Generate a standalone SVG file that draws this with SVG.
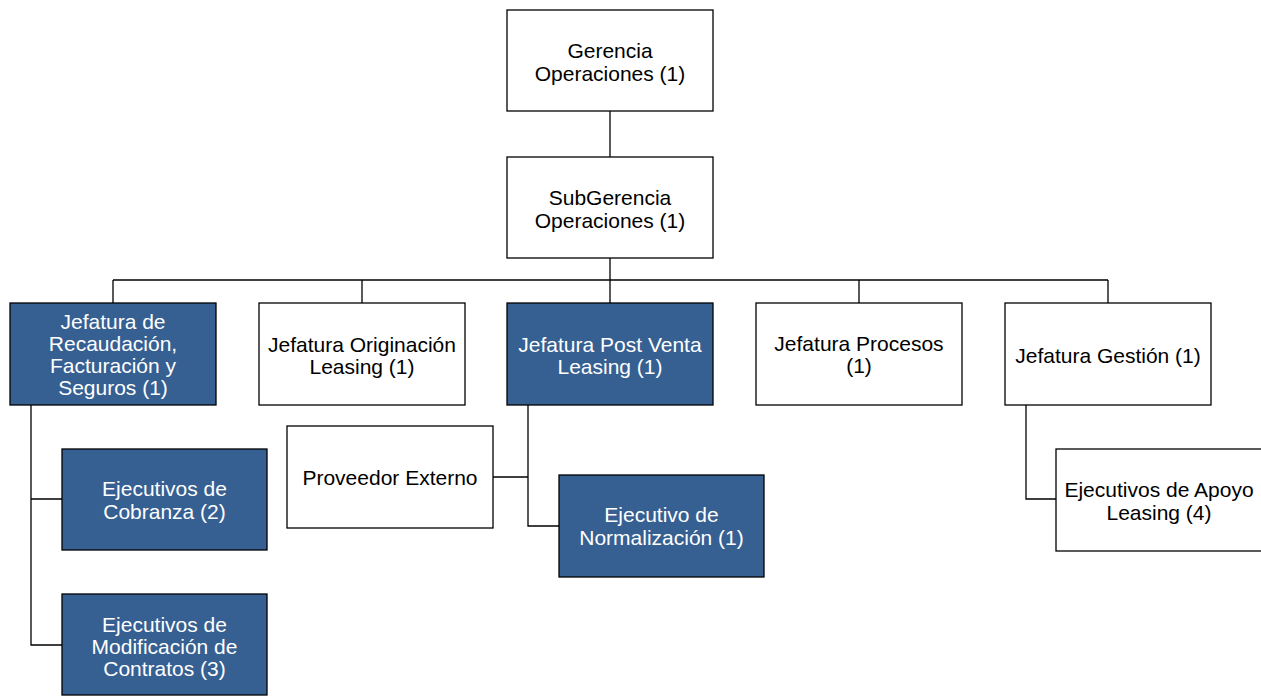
<svg xmlns="http://www.w3.org/2000/svg" width="1261" height="696" viewBox="0 0 1261 696">
  <style>
    .box { fill: #ffffff; stroke: #000000; stroke-width: 1.3; }
    .box.dark { fill: #366092; }
    .lbl { font-family: "Liberation Sans", Arial, sans-serif; font-size: 21px; text-anchor: middle; fill: #000000; }
    .dark + .lbl, .lbl.light { fill: #ffffff; }
    .wire { fill: none; stroke: #000000; stroke-width: 1.3; }
  </style>
  <rect width="1261" height="696" fill="#ffffff"/>

  <!-- connectors -->
  <g id="connectors" class="wire">
    <path d="M610 111 V157"/>
    <path d="M610 258 V303"/>
    <path d="M113 280 H1108"/>
    <path d="M113 280 V303 M362 280 V303 M859 280 V303 M1108 280 V303"/>
    <path d="M31 405 V645 H62 M31 499 H62"/>
    <path d="M528 405 V526 H559 M493 477 H528"/>
    <path d="M1026 405 V499 H1056"/>
  </g>

  <g id="gerencia">
    <rect class="box" x="507" y="10" width="206" height="101"/>
    <text class="lbl" x="610" y="58">Gerencia</text>
    <text class="lbl" x="610" y="81">Operaciones (1)</text>
  </g>

  <g id="subgerencia">
    <rect class="box" x="507" y="157" width="206" height="101"/>
    <text class="lbl" x="610" y="205">SubGerencia</text>
    <text class="lbl" x="610" y="228">Operaciones (1)</text>
  </g>

  <g id="jef-recaudacion">
    <rect class="box dark" x="10" y="303" width="206" height="102"/>
    <text class="lbl light" x="113" y="329">Jefatura de</text>
    <text class="lbl light" x="113" y="351">Recaudación,</text>
    <text class="lbl light" x="113" y="373">Facturación y</text>
    <text class="lbl light" x="113" y="395">Seguros (1)</text>
  </g>

  <g id="jef-originacion">
    <rect class="box" x="259" y="303" width="206" height="102"/>
    <text class="lbl" x="362" y="352">Jefatura Originación</text>
    <text class="lbl" x="362" y="374">Leasing (1)</text>
  </g>

  <g id="jef-postventa">
    <rect class="box dark" x="507" y="303" width="206" height="102"/>
    <text class="lbl light" x="610" y="352">Jefatura Post Venta</text>
    <text class="lbl light" x="610" y="374">Leasing (1)</text>
  </g>

  <g id="jef-procesos">
    <rect class="box" x="756" y="303" width="206" height="102"/>
    <text class="lbl" x="859" y="351">Jefatura Procesos</text>
    <text class="lbl" x="859" y="373">(1)</text>
  </g>

  <g id="jef-gestion">
    <rect class="box" x="1005" y="303" width="206" height="102"/>
    <text class="lbl" x="1108" y="363">Jefatura Gestión (1)</text>
  </g>

  <g id="ej-cobranza">
    <rect class="box dark" x="62" y="449" width="205" height="101"/>
    <text class="lbl light" x="164.5" y="496">Ejecutivos de</text>
    <text class="lbl light" x="164.5" y="519">Cobranza (2)</text>
  </g>

  <g id="ej-modificacion">
    <rect class="box dark" x="62" y="594" width="205" height="101"/>
    <text class="lbl light" x="164.5" y="632">Ejecutivos de</text>
    <text class="lbl light" x="164.5" y="654">Modificación de</text>
    <text class="lbl light" x="164.5" y="676">Contratos (3)</text>
  </g>

  <g id="proveedor-externo">
    <rect class="box" x="287" y="426" width="206" height="102"/>
    <text class="lbl" x="390" y="485">Proveedor Externo</text>
  </g>

  <g id="ej-normalizacion">
    <rect class="box dark" x="559" y="475" width="205" height="102"/>
    <text class="lbl light" x="661.5" y="522">Ejecutivo de</text>
    <text class="lbl light" x="661.5" y="545">Normalización (1)</text>
  </g>

  <g id="ej-apoyo">
    <rect class="box" x="1056" y="449" width="206" height="102"/>
    <text class="lbl" x="1159" y="497">Ejecutivos de Apoyo</text>
    <text class="lbl" x="1159" y="520">Leasing (4)</text>
  </g>
</svg>
